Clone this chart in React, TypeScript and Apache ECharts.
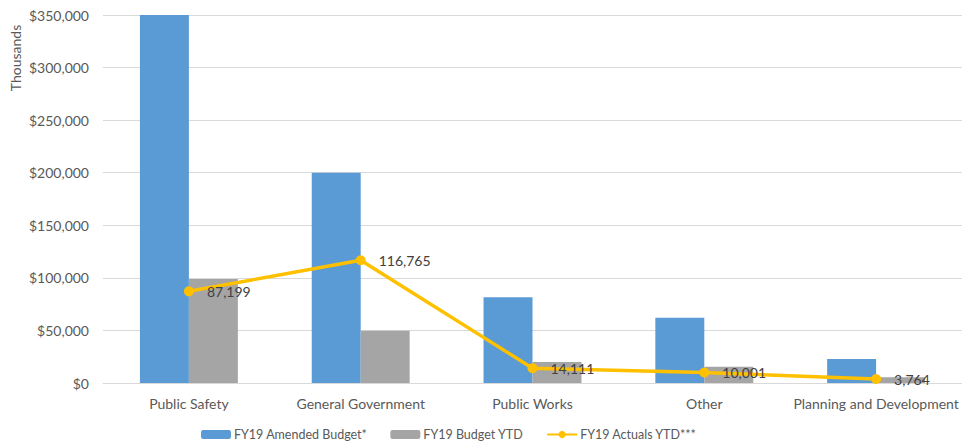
import React, { useEffect, useRef } from "react";
import * as echarts from "echarts";

const categories = ["Public Safety", "General Government", "Public Works", "Other", "Planning and Development"];
const amendedBudget = [350000, 200000, 81500, 62100, 22800];
const budgetYTD = [98800, 49800, 20000, 15500, 5400];
const actualsYTD = [87199, 116765, 14111, 10001, 3764];
const seriesNames = ["FY19 Amended Budget*", "FY19 Budget YTD", "FY19 Actuals YTD***"];

const FONT = "Lato, 'Open Sans', sans-serif";

export default function App() {
  const ref = useRef<HTMLDivElement>(null);
  useEffect(() => {
    if (!ref.current) return;
    const chart = echarts.init(ref.current, undefined, { renderer: "svg" });
    chart.setOption({
      animation: false,
      textStyle: { fontFamily: FONT },
      grid: { left: 103, right: -2, top: 15, bottom: 63, containLabel: false },
      legend: {
        bottom: 0,
        left: 196,
        itemWidth: 30,
        itemHeight: 9,
        itemGap: 23,
        data: seriesNames,
        textStyle: { color: "#595959", fontSize: 12.5, fontFamily: FONT, padding: [0, 0, 0, -2] },
      },
      graphic: [
        {
          type: "text",
          x: 15,
          y: 58,
          rotation: Math.PI / 2,
          style: {
            text: "Thousands",
            fill: "#595959",
            fontSize: 14,
            fontFamily: FONT,
            align: "center",
            verticalAlign: "middle",
          },
        },
      ],
      xAxis: {
        type: "category",
        data: categories,
        axisTick: { show: false },
        axisLine: { lineStyle: { color: "#D9D9D9", width: 1 } },
        axisLabel: { color: "#595959", fontSize: 14, margin: 13, fontFamily: FONT, interval: 0 },
      },
      yAxis: {
        type: "value",
        min: 0,
        max: 350000,
        interval: 50000,
        axisLine: { show: false },
        axisTick: { show: false },
        splitLine: { lineStyle: { color: "#D9D9D9", width: 1 } },
        axisLabel: {
          color: "#595959",
          fontSize: 14,
          margin: 14,
          fontFamily: FONT,
          formatter: (v: number) => "$" + v.toLocaleString("en-US"),
        },
      },
      series: [
        {
          name: seriesNames[0],
          type: "bar",
          data: amendedBudget,
          itemStyle: { color: "#5B9BD5" },
          barGap: "0%",
          barCategoryGap: "43%",
        },
        {
          name: seriesNames[1],
          type: "bar",
          data: budgetYTD,
          itemStyle: { color: "#A5A5A5" },
          barGap: "0%",
          barCategoryGap: "43%",
        },
        {
          name: seriesNames[2],
          type: "line",
          data: actualsYTD,
          symbol: "circle",
          symbolSize: 10,
          lineStyle: { color: "#FFC000", width: 3.5 },
          itemStyle: { color: "#FFC000" },
          label: {
            show: true,
            position: "right",
            distance: 13,
            color: "#404040",
            fontSize: 14,
            fontFamily: FONT,
            formatter: (p: any) => Number(p.value).toLocaleString("en-US"),
          },
          z: 5,
        },
      ],
    });
    return () => chart.dispose();
  }, []);
  return (
    <div
      ref={ref}
      style={{ position: "absolute", left: 0, top: 0, width: 962, height: 446, background: "#fff" }}
    />
  );
}
